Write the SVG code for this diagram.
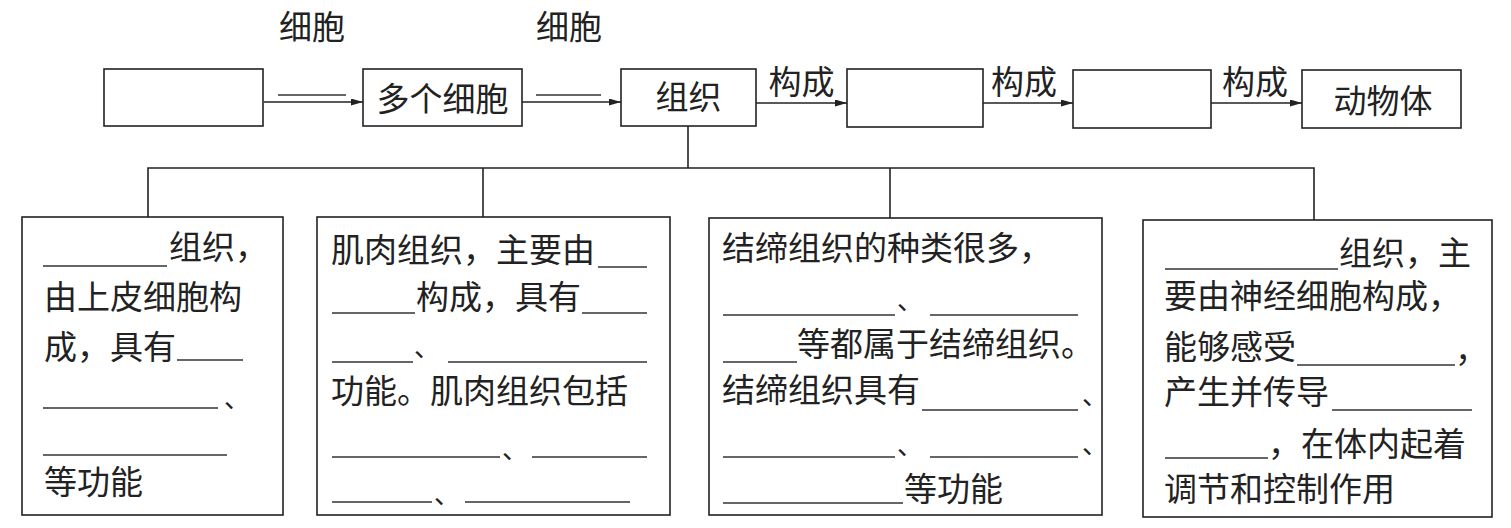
<svg xmlns="http://www.w3.org/2000/svg" width="1511" height="528" viewBox="0 0 1511 528">
<style>
.box{fill:none;stroke:#222;stroke-width:1.6}
.t{font-family:"Noto Sans CJK SC","Noto Sans CJK TC",sans-serif;font-size:33px;fill:#222}
.d{font-family:"Noto Sans CJK SC","Noto Sans CJK TC",sans-serif;font-size:26px;fill:#222}
.m{text-anchor:middle}
.u{stroke:#333;stroke-width:1.5}
.c{stroke:#222;stroke-width:1.6;fill:none}
</style>
<defs>
<marker id="arr" markerUnits="userSpaceOnUse" markerWidth="13" markerHeight="8" refX="12" refY="3.5" orient="auto">
<path d="M0,0 L12,3.5 L0,7 Z" fill="#222"/>
</marker>
</defs>
<rect width="1511" height="528" fill="#fff"/>

<g id="n-cell"><rect class="box" x="104" y="69" width="159" height="57"/></g>
<g id="n-multi"><rect class="box" x="363" y="69" width="159" height="57"/><text class="t m" x="442.5" y="111">多个细胞</text></g>
<g id="n-tissue"><rect class="box" x="621" y="69" width="135" height="57"/><text class="t m" x="688.5" y="109">组织</text></g>
<g id="n-organ"><rect class="box" x="847" y="69" width="136" height="58"/></g>
<g id="n-system"><rect class="box" x="1073" y="70" width="138" height="58"/></g>
<g id="n-animal"><rect class="box" x="1302" y="70" width="159" height="58"/><text class="t m" x="1383" y="113">动物体</text></g>

<g id="connectors">
<line class="c" x1="264" y1="102" x2="363" y2="102" marker-end="url(#arr)"/>
<line class="u" x1="278" y1="95" x2="346" y2="95"/>
<text class="t m" x="312" y="39">细胞</text>
<line class="c" x1="522" y1="102" x2="621" y2="102" marker-end="url(#arr)"/>
<line class="u" x1="536" y1="95" x2="601" y2="95"/>
<text class="t m" x="569" y="39">细胞</text>
<line class="c" x1="756" y1="103" x2="847" y2="103" marker-end="url(#arr)"/>
<text class="t m" x="801.5" y="94">构成</text>
<line class="c" x1="983" y1="103" x2="1073" y2="103" marker-end="url(#arr)"/>
<text class="t m" x="1024" y="94">构成</text>
<line class="c" x1="1211" y1="103" x2="1302" y2="103" marker-end="url(#arr)"/>
<text class="t m" x="1255" y="94">构成</text>
<polyline class="c" points="688,126 688,168"/>
<polyline class="c" points="148,217 148,168 1314,168 1314,220"/>
<line class="c" x1="483" y1="168" x2="483" y2="217"/>
<line class="c" x1="890" y1="168" x2="890" y2="218"/>
</g>

<g id="n-epithelial">
<rect class="box" x="22" y="217" width="261" height="298"/>
<line class="u" x1="43" y1="266" x2="167" y2="266"/>
<text class="t" x="169" y="259">组织，</text>
<text class="t" x="44" y="309">由上皮细胞构</text>
<text class="t" x="44" y="359">成，具有</text>
<line class="u" x1="177" y1="360" x2="243" y2="360"/>
<line class="u" x1="43" y1="408" x2="218" y2="408"/>
<text class="d" x="224" y="408">、</text>
<line class="u" x1="43" y1="455" x2="227" y2="455"/>
<text class="t" x="44" y="494">等功能</text>
</g>

<g id="n-muscle">
<rect class="box" x="317" y="217" width="353" height="298"/>
<text class="t" x="331" y="262">肌肉组织，主要由</text>
<line class="u" x1="598" y1="267" x2="647" y2="267"/>
<line class="u" x1="332" y1="313" x2="415" y2="313"/>
<text class="t" x="416" y="309">构成，具有</text>
<line class="u" x1="582" y1="313" x2="647" y2="313"/>
<line class="u" x1="332" y1="362" x2="413" y2="362"/>
<text class="d" x="414" y="357">、</text>
<line class="u" x1="448" y1="362" x2="647" y2="362"/>
<text class="t" x="331" y="403">功能。肌肉组织包括</text>
<line class="u" x1="332" y1="457" x2="500" y2="457"/>
<text class="d" x="502" y="459">、</text>
<line class="u" x1="532" y1="457" x2="647" y2="457"/>
<line class="u" x1="332" y1="502" x2="432" y2="502"/>
<text class="d" x="434" y="504">、</text>
<line class="u" x1="465" y1="502" x2="630" y2="502"/>
</g>

<g id="n-connective">
<rect class="box" x="709" y="218" width="393" height="297"/>
<text class="t" x="722" y="260">结缔组织的种类很多，</text>
<line class="u" x1="723" y1="315" x2="895" y2="315"/>
<text class="d" x="897" y="310">、</text>
<line class="u" x1="930" y1="315" x2="1078" y2="315"/>
<line class="u" x1="723" y1="362" x2="797" y2="362"/>
<text class="t" x="797" y="356">等都属于结缔组织。</text>
<text class="t" x="722" y="402">结缔组织具有</text>
<line class="u" x1="922" y1="410" x2="1078" y2="410"/>
<text class="d" x="1082" y="405">、</text>
<line class="u" x1="723" y1="457" x2="895" y2="457"/>
<text class="d" x="897" y="455">、</text>
<line class="u" x1="930" y1="457" x2="1078" y2="457"/>
<text class="d" x="1082" y="454">、</text>
<line class="u" x1="723" y1="503" x2="903" y2="503"/>
<text class="t" x="904" y="501">等功能</text>
</g>

<g id="n-nervous">
<rect class="box" x="1143" y="220" width="349" height="297"/>
<line class="u" x1="1165" y1="269" x2="1338" y2="269"/>
<text class="t" x="1339" y="265">组织，主</text>
<text class="t" x="1164" y="308">要由神经细胞构成，</text>
<text class="t" x="1164" y="359">能够感受</text>
<line class="u" x1="1297" y1="365" x2="1455" y2="365"/>
<text class="t" x="1455" y="362">，</text>
<text class="t" x="1164" y="404">产生并传导</text>
<line class="u" x1="1332" y1="410" x2="1472" y2="410"/>
<line class="u" x1="1165" y1="458" x2="1268" y2="458"/>
<text class="t" x="1268" y="456">，在体内起着</text>
<text class="t" x="1164" y="501">调节和控制作用</text>
</g>
</svg>
